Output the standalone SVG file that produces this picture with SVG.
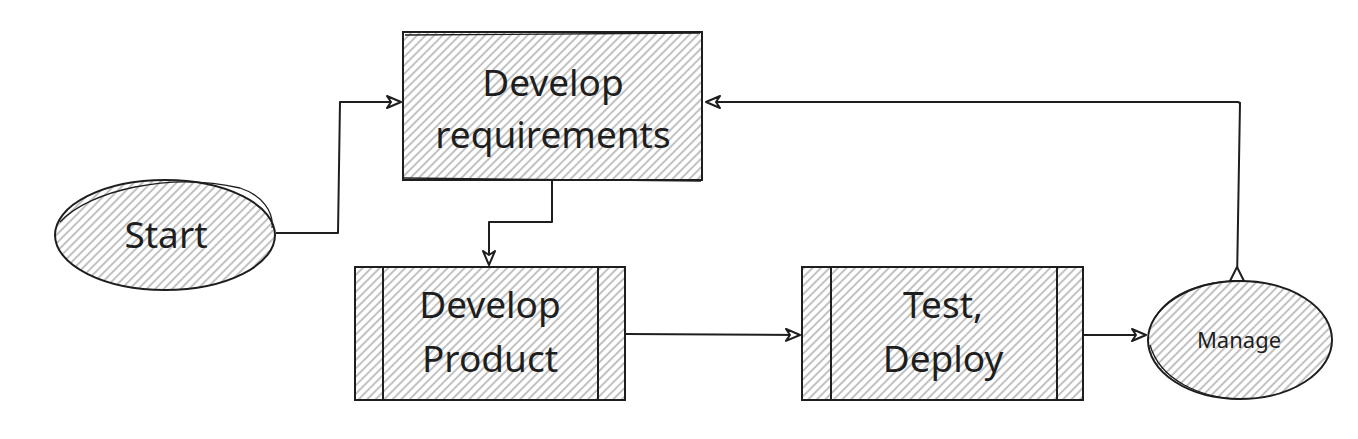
<svg xmlns="http://www.w3.org/2000/svg" width="1358" height="439" viewBox="0 0 1358 439">
  <defs>
    <pattern id="hach" patternUnits="userSpaceOnUse" width="6" height="6" patternTransform="rotate(45)">
      <line x1="2" y1="0" x2="2" y2="6" stroke="#a8a8a8" stroke-width="1.4"/>
    </pattern>
    <marker id="arr" viewBox="0 0 16 14" refX="15" refY="7" markerWidth="16" markerHeight="14" markerUnits="userSpaceOnUse" orient="auto">
      <path d="M1,1 L15,7 L1,13 L5,7 Z" fill="#fff" stroke="#1e1e1e" stroke-width="2" stroke-linejoin="round"/>
    </marker>
  </defs>
  <style>
    .shape { fill: url(#hach); stroke: #1e1e1e; stroke-width: 2; }
    .sk { fill: none; stroke: #1e1e1e; stroke-width: 1.3; }
    .div { stroke: #1e1e1e; stroke-width: 2; }
    .lbl { font-family: "Noto Sans", "Liberation Sans", sans-serif; fill: #1e1e1e; text-anchor: middle; }
    .big { font-size: 37px; }
    .small { font-size: 22px; }
    .conn { fill: none; stroke: #1e1e1e; stroke-width: 2; stroke-linejoin: round; }
  </style>
  <rect width="1358" height="439" fill="#ffffff"/>

  <g id="connectors">
    <path class="conn" d="M276,233 L338,233 L340,102 L401,102" marker-end="url(#arr)"/>
    <path class="conn" d="M552,181 L552,222 L489,222 L489,265" marker-end="url(#arr)"/>
    <path class="conn" d="M626,334 L800,335" marker-end="url(#arr)"/>
    <path class="conn" d="M1084,335 L1146,335" marker-end="url(#arr)"/>
    <path class="conn" d="M1237,281 L1240,103 L1238,102 L706,102" marker-end="url(#arr)"/>
    <path d="M1230,281 L1237,267 L1244,281 Z" fill="#fff" stroke="#1e1e1e" stroke-width="2" stroke-linejoin="round"/>
  </g>

  <g id="start">
    <ellipse class="shape" cx="165" cy="235" rx="110" ry="55"/>
    <path class="sk" d="M60,222 C90,190 170,172 240,188 C262,195 274,212 272,228"/>
    <text class="lbl big" x="166" y="248">Start</text>
  </g>

  <g id="develop-requirements">
    <rect class="shape" x="403" y="32" width="299" height="148"/>
    <path class="sk" d="M405,35 L700,33 M404,178 L701,181"/>
    <text class="lbl big" x="553" y="96">Develop</text>
    <text class="lbl big" x="553" y="148">requirements</text>
  </g>

  <g id="develop-product">
    <rect class="shape" x="355" y="267" width="270" height="133"/>
    <line class="div" x1="383" y1="268" x2="383" y2="399"/>
    <line class="div" x1="598" y1="268" x2="598" y2="399"/>
    <text class="lbl big" x="490" y="318">Develop</text>
    <text class="lbl big" x="490" y="372">Product</text>
  </g>

  <g id="test-deploy">
    <rect class="shape" x="802" y="267" width="281" height="133"/>
    <line class="div" x1="831" y1="268" x2="831" y2="399"/>
    <line class="div" x1="1057" y1="268" x2="1057" y2="399"/>
    <text class="lbl big" x="943" y="318">Test,</text>
    <text class="lbl big" x="943" y="372">Deploy</text>
  </g>

  <g id="manage">
    <ellipse class="shape" cx="1240" cy="340" rx="92" ry="59"/>
    <path class="sk" d="M1155,318 C1170,292 1205,280 1245,281 M1150,345 C1160,380 1200,398 1240,399"/>
    <text class="lbl small" x="1239" y="348">Manage</text>
  </g>
</svg>
